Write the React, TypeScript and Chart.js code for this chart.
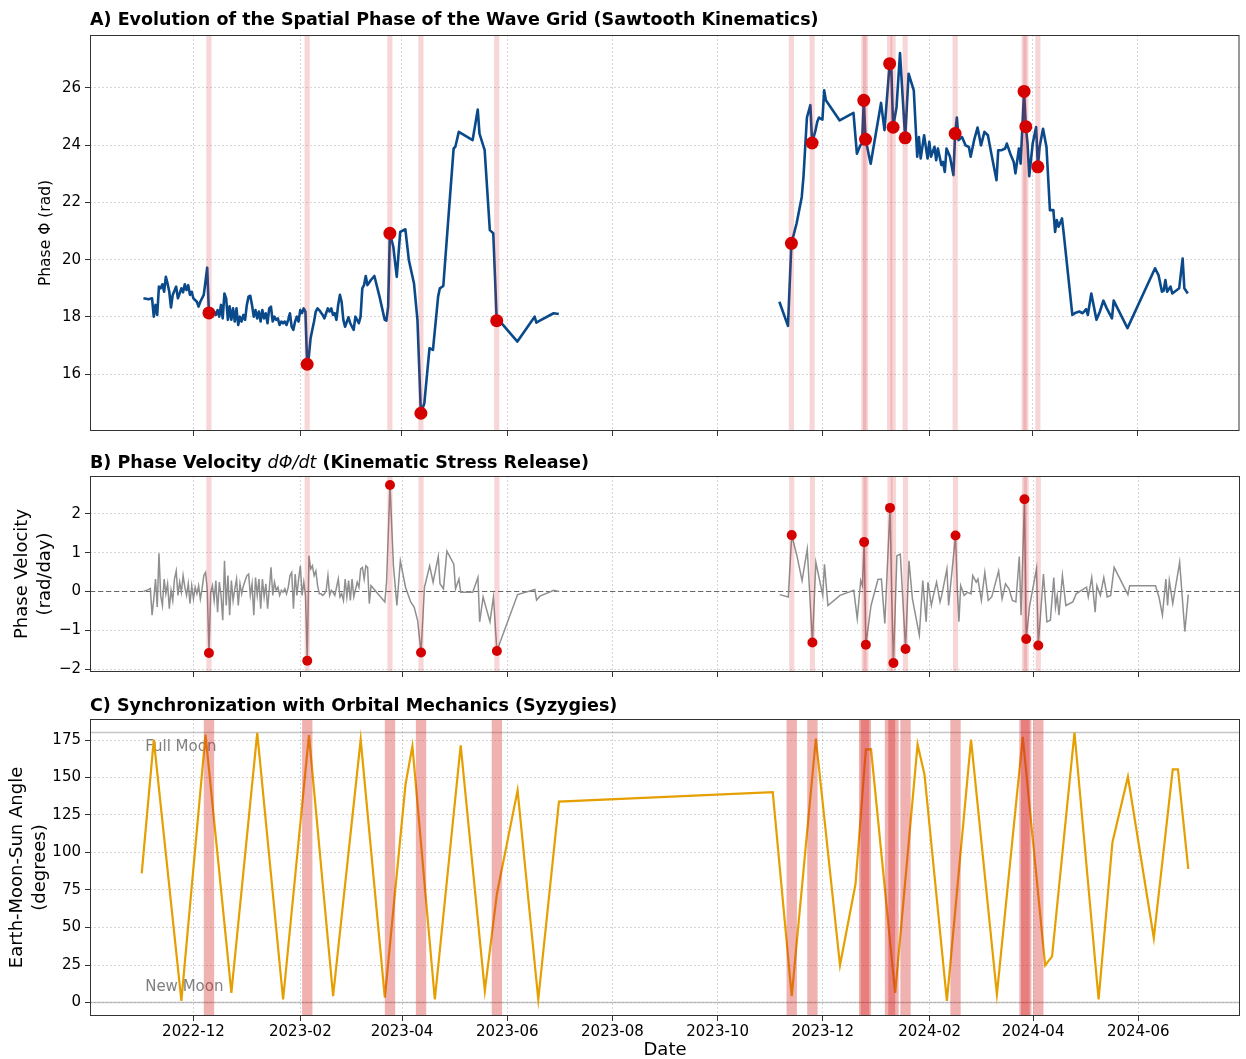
import React, { useEffect, useRef } from 'react';
import { Chart, registerables } from 'chart.js';

Chart.register(...registerables);

// ---------------- data ----------------
const xLimits = ['2022-10-02', '2024-07-30'];
const monthTicks = ['2022-12-01', '2023-02-01', '2023-04-01', '2023-06-01', '2023-08-01', '2023-10-01', '2023-12-01', '2024-02-01', '2024-04-01', '2024-06-01'];
const phaseTicks = [16, 18, 20, 22, 24, 26];
const velocityTicks = [-2, -1, 0, 1, 2];
const angleTicks = [0, 25, 50, 75, 100, 125, 150, 175];

const phaseSeries: [string, number | null][] = [
  ['2022-11-02', 18.65], ['2022-11-05', 18.62], ['2022-11-07', 18.65], ['2022-11-08', 18.01], ['2022-11-09', 18.42],
  ['2022-11-10', 18.07], ['2022-11-11', 19.06], ['2022-11-12', 19.0], ['2022-11-13', 19.14], ['2022-11-14', 18.88],
  ['2022-11-15', 19.4], ['2022-11-16', 19.17], ['2022-11-17', 18.88], ['2022-11-18', 18.33], ['2022-11-19', 18.77],
  ['2022-11-21', 19.06], ['2022-11-22', 18.65], ['2022-11-23', 18.82], ['2022-11-24', 19.0], ['2022-11-25', 18.86],
  ['2022-11-26', 19.14], ['2022-11-27', 18.94], ['2022-11-28', 19.11], ['2022-11-29', 18.77], ['2022-11-30', 18.88],
  ['2022-12-01', 18.65], ['2022-12-03', 18.53], ['2022-12-04', 18.36], ['2022-12-05', 18.53], ['2022-12-07', 18.77],
  ['2022-12-08', 19.23], ['2022-12-09', 19.72], ['2022-12-10', 18.14], ['2022-12-13', 18.19], ['2022-12-14', 18.07],
  ['2022-12-15', 18.24], ['2022-12-16', 18.01], ['2022-12-17', 18.42], ['2022-12-18', 17.95], ['2022-12-19', 18.82],
  ['2022-12-20', 18.65], ['2022-12-21', 17.9], ['2022-12-22', 18.37], ['2022-12-23', 17.9], ['2022-12-24', 18.3],
  ['2022-12-25', 17.84], ['2022-12-26', 18.3], ['2022-12-27', 17.72], ['2022-12-28', 18.01], ['2022-12-29', 17.84],
  ['2022-12-30', 18.07], ['2022-12-31', 17.9], ['2023-01-01', 18.42], ['2023-01-02', 18.71], ['2023-01-03', 18.74],
  ['2023-01-04', 18.42], ['2023-01-05', 18.01], ['2023-01-06', 18.24], ['2023-01-07', 17.95], ['2023-01-08', 18.19],
  ['2023-01-09', 17.84], ['2023-01-10', 18.24], ['2023-01-11', 17.95], ['2023-01-12', 18.13], ['2023-01-13', 17.78],
  ['2023-01-14', 18.3], ['2023-01-15', 18.36], ['2023-01-16', 17.84], ['2023-01-17', 18.01], ['2023-01-18', 17.9],
  ['2023-01-19', 17.95], ['2023-01-20', 17.72], ['2023-01-21', 17.84], ['2023-01-22', 17.78], ['2023-01-23', 17.84],
  ['2023-01-24', 17.72], ['2023-01-25', 17.9], ['2023-01-26', 18.13], ['2023-01-27', 17.66], ['2023-01-28', 17.55],
  ['2023-01-29', 17.84], ['2023-01-30', 18.01], ['2023-01-31', 17.84], ['2023-02-01', 18.24], ['2023-02-02', 18.13],
  ['2023-02-03', 18.3], ['2023-02-04', 18.19], ['2023-02-05', 16.35], ['2023-02-06', 16.62], ['2023-02-07', 17.26],
  ['2023-02-08', 17.55], ['2023-02-09', 17.84], ['2023-02-10', 18.19], ['2023-02-11', 18.3], ['2023-02-12', 18.24],
  ['2023-02-14', 18.07], ['2023-02-15', 17.95], ['2023-02-16', 18.13], ['2023-02-17', 18.3], ['2023-02-18', 18.19],
  ['2023-02-19', 18.3], ['2023-02-20', 18.07], ['2023-02-21', 18.13], ['2023-02-22', 17.9], ['2023-02-23', 18.42],
  ['2023-02-24', 18.77], ['2023-02-25', 18.53], ['2023-02-26', 17.9], ['2023-02-27', 17.66], ['2023-03-01', 17.99],
  ['2023-03-02', 17.78], ['2023-03-04', 17.55], ['2023-03-05', 18.01], ['2023-03-07', 17.78], ['2023-03-08', 18.01],
  ['2023-03-09', 19.0], ['2023-03-10', 19.11], ['2023-03-11', 19.43], ['2023-03-12', 19.11], ['2023-03-14', 19.29],
  ['2023-03-16', 19.43], ['2023-03-19', 18.71], ['2023-03-22', 17.9], ['2023-03-23', 17.87], ['2023-03-24', 18.36],
  ['2023-03-25', 20.92], ['2023-03-27', 20.45], ['2023-03-29', 19.4], ['2023-03-31', 20.97], ['2023-04-03', 21.06],
  ['2023-04-05', 19.99], ['2023-04-08', 19.17], ['2023-04-10', 17.9], ['2023-04-12', 14.64], ['2023-04-14', 14.99],
  ['2023-04-17', 16.91], ['2023-04-19', 16.85], ['2023-04-22', 18.71], ['2023-04-23', 19.0], ['2023-04-25', 19.08],
  ['2023-04-28', 21.49], ['2023-05-01', 23.88], ['2023-05-02', 23.94], ['2023-05-04', 24.46], ['2023-05-12', 24.17],
  ['2023-05-15', 25.24], ['2023-05-16', 24.4], ['2023-05-19', 23.82], ['2023-05-22', 21.03], ['2023-05-24', 20.92],
  ['2023-05-26', 17.87], ['2023-05-28', 17.84], ['2023-06-07', 17.14], ['2023-06-17', 18.01], ['2023-06-18', 17.8],
  ['2023-06-20', 17.87], ['2023-06-28', 18.13], ['2023-07-01', 18.1], ['2023-09-01', null],
  ['2023-11-06', 18.53], ['2023-11-11', 17.69], ['2023-11-13', 20.57], ['2023-11-16', 21.26], ['2023-11-19', 22.19],
  ['2023-11-20', 22.89], ['2023-11-22', 24.96], ['2023-11-24', 25.39], ['2023-11-25', 24.07], ['2023-11-27', 24.52],
  ['2023-11-28', 24.81], ['2023-11-29', 24.96], ['2023-12-01', 24.89], ['2023-12-02', 25.91], ['2023-12-03', 25.56],
  ['2023-12-11', 24.86], ['2023-12-19', 25.12], ['2023-12-21', 23.7], ['2023-12-23', 23.99], ['2023-12-24', 24.05],
  ['2023-12-25', 25.56], ['2023-12-26', 24.2], ['2023-12-29', 23.35], ['2024-01-04', 25.47], ['2024-01-06', 24.52],
  ['2024-01-09', 26.84], ['2024-01-10', 26.6], ['2024-01-11', 24.62], ['2024-01-13', 25.33], ['2024-01-15', 27.21],
  ['2024-01-18', 24.25], ['2024-01-20', 26.49], ['2024-01-23', 25.91], ['2024-01-25', 23.59], ['2024-01-26', 24.28],
  ['2024-01-27', 23.53], ['2024-01-29', 24.34], ['2024-01-31', 23.53], ['2024-02-01', 24.11], ['2024-02-02', 23.59],
  ['2024-02-04', 23.94], ['2024-02-05', 23.47], ['2024-02-06', 23.88], ['2024-02-08', 23.3], ['2024-02-09', 23.41],
  ['2024-02-10', 23.06], ['2024-02-11', 23.88], ['2024-02-13', 23.59], ['2024-02-15', 22.95], ['2024-02-16', 24.4],
  ['2024-02-17', 24.96], ['2024-02-18', 24.17], ['2024-02-20', 24.28], ['2024-02-22', 23.99], ['2024-02-24', 23.93],
  ['2024-02-25', 23.59], ['2024-02-27', 24.17], ['2024-02-29', 24.61], ['2024-03-02', 23.99], ['2024-03-04', 24.46],
  ['2024-03-06', 24.34], ['2024-03-08', 23.7], ['2024-03-11', 22.77], ['2024-03-12', 23.82], ['2024-03-14', 23.82],
  ['2024-03-16', 23.88], ['2024-03-17', 24.05], ['2024-03-19', 23.7], ['2024-03-21', 23.41], ['2024-03-22', 23.01],
  ['2024-03-24', 23.88], ['2024-03-25', 23.35], ['2024-03-27', 25.87], ['2024-03-28', 24.64], ['2024-03-29', 24.05],
  ['2024-03-30', 22.91], ['2024-04-01', 24.05], ['2024-04-03', 24.63], ['2024-04-04', 23.24], ['2024-04-05', 23.93],
  ['2024-04-07', 24.57], ['2024-04-09', 23.93], ['2024-04-11', 21.73], ['2024-04-13', 21.73], ['2024-04-14', 20.97],
  ['2024-04-15', 21.38], ['2024-04-16', 21.15], ['2024-04-18', 21.44], ['2024-04-19', 20.92], ['2024-04-24', 18.07],
  ['2024-04-26', 18.15], ['2024-04-28', 18.19], ['2024-04-30', 18.13], ['2024-05-02', 18.27], ['2024-05-03', 18.07],
  ['2024-05-05', 18.82], ['2024-05-08', 17.9], ['2024-05-10', 18.19], ['2024-05-12', 18.57], ['2024-05-14', 18.3],
  ['2024-05-17', 17.95], ['2024-05-18', 18.57], ['2024-05-26', 17.61], ['2024-06-11', 19.7], ['2024-06-13', 19.46],
  ['2024-06-15', 18.88], ['2024-06-16', 18.92], ['2024-06-17', 19.29], ['2024-06-18', 18.88], ['2024-06-20', 19.06],
  ['2024-06-21', 18.82], ['2024-06-25', 19.0], ['2024-06-27', 20.04], ['2024-06-28', 19.0], ['2024-06-30', 18.82],
];

const velocitySeries: [string, number | null][] = [
  ['2022-11-02', 0], ['2022-11-04', 0.03], ['2022-11-06', 0.08], ['2022-11-07', -0.61], ['2022-11-08', -0.19],
  ['2022-11-09', 0.32], ['2022-11-10', -0.4], ['2022-11-11', 0.98], ['2022-11-12', -0.1], ['2022-11-13', -0.36],
  ['2022-11-14', 0.32], ['2022-11-15', -0.06], ['2022-11-16', 0.2], ['2022-11-17', -0.44], ['2022-11-18', 0.03],
  ['2022-11-19', -0.23], ['2022-11-20', 0.32], ['2022-11-21', 0.53], ['2022-11-22', -0.1], ['2022-11-23', 0.24],
  ['2022-11-24', -0.02], ['2022-11-25', 0.41], ['2022-11-26', 0.11], ['2022-11-27', -0.1], ['2022-11-28', 0.2],
  ['2022-11-29', -0.31], ['2022-11-30', 0.15], ['2022-12-01', -0.19], ['2022-12-02', 0.11], ['2022-12-03', -0.06],
  ['2022-12-04', 0.15], ['2022-12-05', -0.19], ['2022-12-06', 0.07], ['2022-12-07', 0.41], ['2022-12-08', 0.49],
  ['2022-12-09', 0.07], ['2022-12-10', -1.58], ['2022-12-11', -0.02], ['2022-12-12', 0.15], ['2022-12-13', -0.23],
  ['2022-12-14', 0.28], ['2022-12-15', -0.53], ['2022-12-16', 0.24], ['2022-12-17', -0.1], ['2022-12-18', -0.74],
  ['2022-12-19', 0.79], ['2022-12-20', -0.36], ['2022-12-21', 0.41], ['2022-12-22', -0.61], ['2022-12-23', 0.28],
  ['2022-12-24', -0.23], ['2022-12-25', 0.07], ['2022-12-26', 0.32], ['2022-12-27', -0.36], ['2022-12-28', 0.2],
  ['2022-12-29', -0.06], ['2022-12-30', 0.15], ['2022-12-31', 0.28], ['2023-01-01', 0.41], ['2023-01-02', 0.45],
  ['2023-01-03', -0.1], ['2023-01-04', 0.2], ['2023-01-05', -0.61], ['2023-01-06', 0.36], ['2023-01-07', -0.1],
  ['2023-01-08', 0.32], ['2023-01-09', -0.44], ['2023-01-10', 0.32], ['2023-01-11', -0.14], ['2023-01-12', 0.2],
  ['2023-01-13', -0.44], ['2023-01-14', 0.07], ['2023-01-15', 0.62], ['2023-01-16', -0.1], ['2023-01-17', 0.24],
  ['2023-01-18', 0.03], ['2023-01-19', 0.11], ['2023-01-20', -0.1], ['2023-01-21', 0.03], ['2023-01-22', -0.02],
  ['2023-01-23', 0.07], ['2023-01-24', -0.06], ['2023-01-25', 0.11], ['2023-01-26', 0.41], ['2023-01-27', 0.49],
  ['2023-01-28', -0.44], ['2023-01-29', 0.45], ['2023-01-30', -0.1], ['2023-01-31', 0.32], ['2023-02-01', 0.66],
  ['2023-02-02', -0.1], ['2023-02-03', 0.24], ['2023-02-04', -0.1], ['2023-02-05', -1.78], ['2023-02-06', 0.92],
  ['2023-02-07', 0.58], ['2023-02-08', 0.66], ['2023-02-09', 0.41], ['2023-02-10', 0.53], ['2023-02-11', 0.15],
  ['2023-02-12', -0.06], ['2023-02-13', -0.06], ['2023-02-14', -0.1], ['2023-02-15', -0.06], ['2023-02-16', 0.03],
  ['2023-02-17', 0.41], ['2023-02-18', -0.1], ['2023-02-19', 0.03], ['2023-02-20', -0.02], ['2023-02-21', -0.1],
  ['2023-02-22', 0.11], ['2023-02-23', 0.32], ['2023-02-24', -0.14], ['2023-02-25', -0.06], ['2023-02-26', -0.23],
  ['2023-02-27', 0.32], ['2023-02-28', -0.14], ['2023-03-01', 0.28], ['2023-03-02', -0.23], ['2023-03-03', 0.32],
  ['2023-03-04', -0.14], ['2023-03-06', 0.24], ['2023-03-07', 0.11], ['2023-03-08', 0.58], ['2023-03-09', 0.62],
  ['2023-03-10', 0.32], ['2023-03-11', 0.66], ['2023-03-12', 0.62], ['2023-03-13', -0.31], ['2023-03-14', 0.15],
  ['2023-03-22', -0.27], ['2023-03-23', 0.24], ['2023-03-25', 2.74], ['2023-03-27', 0.66], ['2023-03-29', -0.36],
  ['2023-03-31', 0.79], ['2023-04-03', 0.11], ['2023-04-06', -0.27], ['2023-04-08', -0.4], ['2023-04-10', -0.74],
  ['2023-04-12', -1.57], ['2023-04-14', 0.11], ['2023-04-17', 0.66], ['2023-04-19', 0.24], ['2023-04-22', 0.9],
  ['2023-04-23', 0.2], ['2023-04-25', 0.07], ['2023-04-27', 1.04], ['2023-05-01', 0.7], ['2023-05-02', 0.07],
  ['2023-05-04', 0.32], ['2023-05-05', -0.02], ['2023-05-12', -0.02], ['2023-05-15', 0.36], ['2023-05-16', -0.78],
  ['2023-05-18', -0.14], ['2023-05-22', -0.78], ['2023-05-24', -0.14], ['2023-05-26', -1.53], ['2023-06-07', -0.08],
  ['2023-06-17', 0.05], ['2023-06-18', -0.22], ['2023-06-20', -0.12], ['2023-06-28', 0.03], ['2023-07-01', 0.0],
  ['2023-09-01', null],
  ['2023-11-06', -0.08], ['2023-11-11', -0.14], ['2023-11-13', 1.45], ['2023-11-16', 0.92], ['2023-11-19', 0.28],
  ['2023-11-22', 1.09], ['2023-11-25', -1.31], ['2023-11-27', 0.75], ['2023-12-01', -0.1], ['2023-12-02', 0.7],
  ['2023-12-04', -0.36], ['2023-12-11', -0.1], ['2023-12-19', 0.03], ['2023-12-21', -0.7], ['2023-12-23', 0.28],
  ['2023-12-24', 0.15], ['2023-12-25', 1.27], ['2023-12-26', -1.37], ['2023-12-29', -0.36], ['2024-01-02', 0.31],
  ['2024-01-04', 0.32], ['2024-01-06', -0.82], ['2024-01-09', 2.15], ['2024-01-10', -0.1], ['2024-01-11', -1.84],
  ['2024-01-13', 0.92], ['2024-01-15', 0.96], ['2024-01-18', -1.48], ['2024-01-20', 0.79], ['2024-01-22', -0.19],
  ['2024-01-26', -1.12], ['2024-01-28', 0.28], ['2024-01-30', -0.78], ['2024-01-31', 0.24], ['2024-02-02', -0.36],
  ['2024-02-03', -0.14], ['2024-02-05', 0.24], ['2024-02-07', -0.27], ['2024-02-08', -0.1], ['2024-02-11', 0.58],
  ['2024-02-12', -0.36], ['2024-02-16', 1.44], ['2024-02-17', 0.11], ['2024-02-18', -0.78], ['2024-02-19', 0.15],
  ['2024-02-21', -0.1], ['2024-02-23', -0.02], ['2024-02-25', -0.06], ['2024-02-26', 0.41], ['2024-02-28', 0.24],
  ['2024-02-29', 0.32], ['2024-03-02', -0.23], ['2024-03-04', 0.49], ['2024-03-06', -0.23], ['2024-03-08', -0.14],
  ['2024-03-12', 0.53], ['2024-03-14', -0.19], ['2024-03-16', 0.2], ['2024-03-18', 0.07], ['2024-03-20', -0.23],
  ['2024-03-22', -0.27], ['2024-03-24', 0.9], ['2024-03-25', -0.61], ['2024-03-27', 2.37], ['2024-03-28', -1.22],
  ['2024-03-30', -0.36], ['2024-04-03', 0.59], ['2024-04-04', -1.39], ['2024-04-07', 0.45], ['2024-04-09', -0.78],
  ['2024-04-11', -0.74], ['2024-04-13', 0.36], ['2024-04-14', -0.4], ['2024-04-15', -0.1], ['2024-04-16', -0.61],
  ['2024-04-18', 0.41], ['2024-04-20', -0.36], ['2024-04-24', -0.27], ['2024-04-26', -0.06], ['2024-04-29', 0.03],
  ['2024-05-02', 0.11], ['2024-05-03', -0.14], ['2024-05-05', 0.36], ['2024-05-07', -0.53], ['2024-05-08', 0.15],
  ['2024-05-10', -0.1], ['2024-05-12', 0.36], ['2024-05-14', -0.14], ['2024-05-16', -0.1], ['2024-05-18', 0.62],
  ['2024-05-26', -0.08], ['2024-05-27', 0.15], ['2024-06-11', 0.15], ['2024-06-13', -0.14], ['2024-06-15', -0.61],
  ['2024-06-17', 0.32], ['2024-06-18', -0.36], ['2024-06-19', 0.28], ['2024-06-21', -0.31], ['2024-06-25', 0.75],
  ['2024-06-28', -1.03], ['2024-06-30', -0.08],
];

const orbitSeries: [string, number][] = [
  ['2022-11-01', 86.1], ['2022-11-08', 175.3], ['2022-11-24', 1.1], ['2022-12-08', 178.6], ['2022-12-23', 6.4],
  ['2023-01-07', 179.7], ['2023-01-22', 2.0], ['2023-02-06', 178.2], ['2023-02-20', 4.2], ['2023-03-08', 175.3],
  ['2023-03-22', 3.3], ['2023-04-03', 145.4], ['2023-04-07', 170.9], ['2023-04-20', 2.0], ['2023-05-05', 171.5],
  ['2023-05-19', 7.8], ['2023-05-26', 72.4], ['2023-06-07', 141.4], ['2023-06-19', 2.0], ['2023-07-01', 133.9],
  ['2023-11-02', 140.3], ['2023-11-13', 4.2], ['2023-11-27', 176.0], ['2023-12-11', 24.8], ['2023-12-20', 79.0],
  ['2023-12-26', 168.7], ['2023-12-29', 168.9], ['2024-01-12', 6.4], ['2024-01-25', 172.0], ['2024-01-29', 152.0],
  ['2024-02-11', 1.1], ['2024-02-25', 175.3], ['2024-03-11', 5.5], ['2024-03-26', 177.1], ['2024-04-08', 24.8],
  ['2024-04-12', 30.8], ['2024-04-25', 180.0], ['2024-05-09', 2.0], ['2024-05-17', 106.7], ['2024-05-26', 150.5],
  ['2024-06-10', 43.0], ['2024-06-21', 155.4], ['2024-06-24', 155.4], ['2024-06-30', 89.0],
];

const eventDates = ['2022-12-10', '2023-02-05', '2023-03-25', '2023-04-12', '2023-05-26', '2023-11-13', '2023-11-25', '2023-12-25',
  '2023-12-26', '2024-01-09', '2024-01-11', '2024-01-18', '2024-02-16', '2024-03-27', '2024-03-28', '2024-04-04'];
const eventPhase = [18.14, 16.35, 20.92, 14.64, 17.87, 20.57, 24.07, 25.56, 24.2, 26.84, 24.62, 24.25, 24.4, 25.87, 24.64, 23.24];
const eventVelocity = [-1.58, -1.78, 2.74, -1.57, -1.53, 1.45, -1.31, 1.27, -1.37, 2.15, -1.84, -1.48, 1.44, 2.37, -1.22, -1.39];

const moonLabels = [
  { text: 'Full Moon', date: '2022-11-03', value: 170 },
  { text: 'New Moon', date: '2022-11-03', value: 10 },
];

// ---------------- helpers ----------------
const FONT = 'DejaVu Sans';
const DAY = 86400000;
const ms = (d: string) => Date.parse(d + 'T00:00:00Z');
const fmtNum = (v: number) => (v < 0 ? '\u2212' + Math.abs(v) : String(v));
const W = 1246;
const TICK_SIZE = 15;
const TITLE_SIZE = 17.5;

const gridStyle = {
  color: 'rgba(0,0,0,0.2)',
  lineWidth: 0.8,
  drawTicks: true,
  tickLength: 5,
  tickColor: '#333',
  tickWidth: 1,
  tickBorderDash: [],
};

function xScale(showLabels: boolean, axisHeight: number) {
  return {
    type: 'linear',
    min: ms(xLimits[0]),
    max: ms(xLimits[1]),
    afterBuildTicks: (axis: any) => {
      axis.ticks = monthTicks.map((m) => ({ value: ms(m) }));
    },
    afterFit: (axis: any) => {
      axis.height = axisHeight;
    },
    ticks: {
      display: showLabels,
      autoSkip: false,
      maxRotation: 0,
      minRotation: 0,
      padding: 2,
      color: '#000',
      font: { family: FONT, size: TICK_SIZE },
      callback: (v: number) => new Date(v).toISOString().slice(0, 7),
    },
    grid: gridStyle,
    border: { display: false, dash: [2, 2] },
  };
}

function yScale(min: number, max: number, ticks: number[]) {
  return {
    type: 'linear',
    min,
    max,
    afterBuildTicks: (axis: any) => {
      axis.ticks = ticks.map((t) => ({ value: t }));
    },
    afterFit: (axis: any) => {
      axis.width = 90;
    },
    ticks: {
      autoSkip: false,
      padding: 4,
      color: '#000',
      font: { family: FONT, size: TICK_SIZE },
      callback: (v: number) => fmtNum(v),
    },
    grid: gridStyle,
    border: { display: false, dash: [2, 2] },
  };
}

type TitlePart = { text: string; italic?: boolean };

interface PanelDef {
  top: number;
  height: number;
  padTop: number;
  axisHeight: number;
  showX: boolean;
  yMin: number;
  yMax: number;
  yTicks: number[];
  title: TitlePart[];
  titleY: number;
  yLabels: { text: string; x: number }[];
  yLabelSize: number;
  bandHalfDays: number;
  bandColor: string;
  datasets: any[];
  before?: (chart: any) => void;
  after?: (chart: any) => void;
}

function decorPlugin(p: PanelDef) {
  return {
    id: 'decor',
    beforeDatasetsDraw(chart: any) {
      if (p.before) p.before(chart);
    },
    afterDatasetDraw(chart: any, args: any) {
      if (args.index !== 0) return;
      const { ctx, chartArea: a } = chart;
      const x = chart.scales.x;
      ctx.save();
      ctx.beginPath();
      ctx.rect(a.left, a.top, a.right - a.left, a.bottom - a.top);
      ctx.clip();
      ctx.fillStyle = p.bandColor;
      eventDates.forEach((d) => {
        const c = ms(d);
        const x1 = x.getPixelForValue(c - p.bandHalfDays * DAY);
        const x2 = x.getPixelForValue(c + p.bandHalfDays * DAY);
        ctx.fillRect(x1, a.top, x2 - x1, a.bottom - a.top);
      });
      ctx.restore();
    },
    afterDraw(chart: any) {
      const { ctx, chartArea: a } = chart;
      ctx.save();
      // frame
      ctx.strokeStyle = '#333';
      ctx.lineWidth = 1;
      ctx.strokeRect(a.left + 0.5, a.top + 0.5, a.right - a.left - 1, a.bottom - a.top - 1);
      // title
      ctx.fillStyle = '#000';
      ctx.textBaseline = 'middle';
      ctx.textAlign = 'left';
      let tx = a.left;
      p.title.forEach((part) => {
        ctx.font = (part.italic ? 'italic ' : 'bold ') + TITLE_SIZE + 'px "' + FONT + '"';
        ctx.fillText(part.text, tx, p.titleY);
        tx += ctx.measureText(part.text).width;
      });
      // y labels
      ctx.font = p.yLabelSize + 'px "' + FONT + '"';
      ctx.textAlign = 'center';
      const cy = (a.top + a.bottom) / 2;
      p.yLabels.forEach((l) => {
        ctx.save();
        ctx.translate(l.x, cy);
        ctx.rotate(-Math.PI / 2);
        ctx.fillText(l.text, 0, 0);
        ctx.restore();
      });
      ctx.restore();
      if (p.after) p.after(chart);
    },
  };
}

const panels: PanelDef[] = [
  {
    top: 0,
    height: 445,
    padTop: 35,
    axisHeight: 14,
    showX: false,
    yMin: 14.02,
    yMax: 27.84,
    yTicks: phaseTicks,
    title: [{ text: 'A) Evolution of the Spatial Phase of the Wave Grid (Sawtooth Kinematics)' }],
    titleY: 20,
    yLabels: [{ text: 'Phase \u03a6 (rad)', x: 46 }],
    yLabelSize: 15.5,
    bandHalfDays: 1.5,
    bandColor: 'rgba(214,39,40,0.19)',
    datasets: [
      {
        data: phaseSeries.map(([d, v]) => ({ x: ms(d), y: v })),
        borderColor: '#0a4a8a',
        borderWidth: 2.6,
        pointRadius: 0,
        tension: 0,
        spanGaps: false,
        borderJoinStyle: 'round',
        order: 2,
      },
      {
        data: eventDates.map((d, i) => ({ x: ms(d), y: eventPhase[i] })),
        showLine: false,
        pointRadius: 6.5,
        pointBackgroundColor: '#d50000',
        pointBorderWidth: 0,
        order: 1,
      },
    ],
  },
  {
    top: 445,
    height: 240,
    padTop: 31,
    axisHeight: 12,
    showX: false,
    yMin: -2.07,
    yMax: 2.97,
    yTicks: velocityTicks,
    title: [{ text: 'B) Phase Velocity ' }, { text: 'd\u03a6/dt', italic: true }, { text: ' (Kinematic Stress Release)' }],
    titleY: 18,
    yLabels: [
      { text: 'Phase Velocity', x: 22 },
      { text: '(rad/day)', x: 45 },
    ],
    yLabelSize: 18,
    bandHalfDays: 1.5,
    bandColor: 'rgba(214,39,40,0.19)',
    datasets: [
      {
        data: velocitySeries.map(([d, v]) => ({ x: ms(d), y: v })),
        borderColor: '#8f8f8f',
        borderWidth: 1.5,
        pointRadius: 0,
        tension: 0,
        spanGaps: false,
        order: 2,
      },
      {
        data: eventDates.map((d, i) => ({ x: ms(d), y: eventVelocity[i] })),
        showLine: false,
        pointRadius: 5,
        pointBackgroundColor: '#d50000',
        pointBorderWidth: 0,
        order: 1,
      },
    ],
    before: (chart: any) => {
      const { ctx, chartArea: a } = chart;
      const y0 = chart.scales.y.getPixelForValue(0);
      ctx.save();
      ctx.strokeStyle = '#666';
      ctx.lineWidth = 1.2;
      ctx.setLineDash([5, 3]);
      ctx.beginPath();
      ctx.moveTo(a.left, y0);
      ctx.lineTo(a.right, y0);
      ctx.stroke();
      ctx.restore();
    },
  },
  {
    top: 690,
    height: 369,
    padTop: 29,
    axisHeight: 43,
    showX: true,
    yMin: -9,
    yMax: 189,
    yTicks: angleTicks,
    title: [{ text: 'C) Synchronization with Orbital Mechanics (Syzygies)' }],
    titleY: 16,
    yLabels: [
      { text: 'Earth-Moon-Sun Angle', x: 17 },
      { text: '(degrees)', x: 40 },
    ],
    yLabelSize: 18,
    bandHalfDays: 3,
    bandColor: 'rgba(214,39,40,0.36)',
    datasets: [
      {
        data: orbitSeries.map(([d, v]) => ({ x: ms(d), y: v })),
        borderColor: '#e69f00',
        borderWidth: 2.2,
        pointRadius: 0,
        tension: 0,
        order: 2,
      },
    ],
    before: (chart: any) => {
      const { ctx, chartArea: a } = chart;
      const xs = chart.scales.x;
      const ys = chart.scales.y;
      ctx.save();
      ctx.strokeStyle = 'rgba(128,128,128,0.45)';
      ctx.lineWidth = 1.5;
      [0, 180].forEach((v) => {
        const yy = ys.getPixelForValue(v);
        ctx.beginPath();
        ctx.moveTo(a.left, yy);
        ctx.lineTo(a.right, yy);
        ctx.stroke();
      });
      ctx.fillStyle = '#808080';
      ctx.font = '15px "' + FONT + '"';
      ctx.textAlign = 'left';
      ctx.textBaseline = 'middle';
      moonLabels.forEach((m) => {
        ctx.fillText(m.text, xs.getPixelForValue(ms(m.date)), ys.getPixelForValue(m.value));
      });
      ctx.restore();
    },
    after: (chart: any) => {
      const { ctx, chartArea: a } = chart;
      ctx.save();
      ctx.fillStyle = '#000';
      ctx.font = '18px "' + FONT + '"';
      ctx.textAlign = 'center';
      ctx.textBaseline = 'middle';
      ctx.fillText('Date', (a.left + a.right) / 2, 360);
      ctx.restore();
    },
  },
];

function Panel({ def }: { def: PanelDef }) {
  const ref = useRef<HTMLCanvasElement | null>(null);
  useEffect(() => {
    if (!ref.current) return;
    const chart = new Chart(ref.current, {
      type: 'line',
      data: { datasets: def.datasets },
      options: {
        responsive: false,
        animation: false,
        events: [],
        layout: { padding: { left: 0, right: 6, top: def.padTop, bottom: 0 } },
        plugins: { legend: { display: false }, tooltip: { enabled: false }, title: { display: false } },
        scales: {
          x: xScale(def.showX, def.axisHeight),
          y: yScale(def.yMin, def.yMax, def.yTicks),
        },
      } as any,
      plugins: [decorPlugin(def)],
    } as any);
    return () => chart.destroy();
  }, [def]);
  return (
    <canvas
      ref={ref}
      width={W}
      height={def.height}
      style={{ position: 'absolute', left: 0, top: def.top, width: W, height: def.height }}
    />
  );
}

export default function App() {
  return (
    <div style={{ position: 'absolute', left: 0, top: 0, width: W, height: 1059, background: '#fff', overflow: 'hidden' }}>
      {panels.map((p, i) => (
        <Panel key={i} def={p} />
      ))}
    </div>
  );
}
